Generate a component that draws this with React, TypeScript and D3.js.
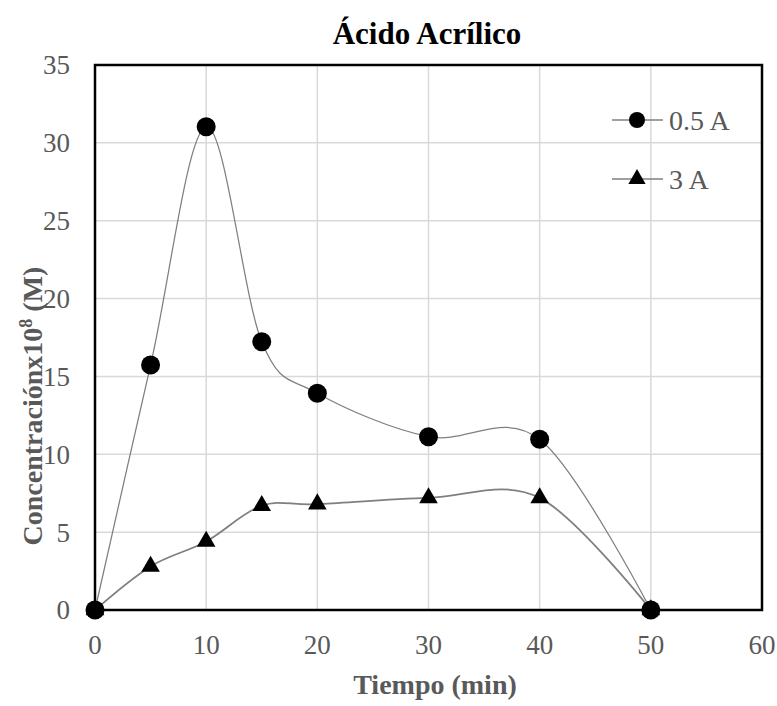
import React from "react";
import * as d3 from "d3";

const times = [0, 5, 10, 15, 20, 30, 40, 50];
const series05A = [0, 15.73, 31.04, 17.23, 13.92, 11.13, 10.96, 0];
const series3A = [0, 2.8, 4.4, 6.7, 6.8, 7.2, 7.2, 0];
const xTicks = [0, 10, 20, 30, 40, 50, 60];
const yTicks = [0, 5, 10, 15, 20, 25, 30, 35];
const seriesNames = ["0.5 A", "3 A"];

const W = 777;
const H = 706;
const M = { left: 95, right: 762, top: 65, bottom: 610 };
const FONT = "'Liberation Serif', 'Times New Roman', serif";

export default function App() {
  const x = d3.scaleLinear().domain([0, 60]).range([M.left, M.right]);
  const y = d3.scaleLinear().domain([0, 35]).range([M.bottom, M.top]);
  const line = d3
    .line<number>()
    .x((_, i) => x(times[i]))
    .y((d) => y(d))
    .curve(d3.curveCardinal.tension(0));

  const tri = d3.symbol().type(d3.symbolTriangle).size(150)();
  const triLegend = d3.symbol().type(d3.symbolTriangle).size(130)();

  return (
    <svg width={W} height={H} style={{ position: "absolute", left: 0, top: 0 }}>
      <rect x={0} y={0} width={W} height={H} fill="white" />
      {/* grid */}
      {xTicks.map((t) => (
        <line key={"gx" + t} x1={x(t)} x2={x(t)} y1={M.top} y2={M.bottom} stroke="#d9d9d9" strokeWidth={1.5} />
      ))}
      {yTicks.map((t) => (
        <line key={"gy" + t} x1={M.left} x2={M.right} y1={y(t)} y2={y(t)} stroke="#d9d9d9" strokeWidth={1.5} />
      ))}
      {/* series lines */}
      <path d={line(series05A) || ""} fill="none" stroke="#7f7f7f" strokeWidth={1.25} />
      <path d={line(series3A) || ""} fill="none" stroke="#7f7f7f" strokeWidth={1.75} />
      {/* markers */}
      {series05A.map((v, i) => (
        <circle key={"c" + i} cx={x(times[i])} cy={y(v)} r={9.5} fill="black" />
      ))}
      {series3A.map((v, i) => (
        <path key={"t" + i} d={tri || ""} transform={`translate(${x(times[i])},${y(v)})`} fill="black" />
      ))}
      {/* plot border */}
      <rect x={M.left} y={M.top} width={M.right - M.left} height={M.bottom - M.top} fill="none" stroke="black" strokeWidth={2.5} />
      {/* tick labels */}
      {yTicks.map((t) => (
        <text key={"yl" + t} x={M.left - 25} y={y(t)} dy="0.35em" textAnchor="end" fontFamily={FONT} fontSize={27} fill="#595959">
          {t}
        </text>
      ))}
      {xTicks.map((t) => (
        <text key={"xl" + t} x={x(t)} y={M.bottom + 44} textAnchor="middle" fontFamily={FONT} fontSize={27} fill="#595959">
          {t}
        </text>
      ))}
      {/* title */}
      <text x={427} y={44} textAnchor="middle" fontFamily={FONT} fontSize={31} fontWeight="bold" fill="black">
        Ácido Acrílico
      </text>
      {/* axis titles */}
      <text x={435} y={694} textAnchor="middle" fontFamily={FONT} fontSize={28} fontWeight="bold" fill="#595959">
        Tiempo (min)
      </text>
      <text transform="translate(42,406) rotate(-90)" textAnchor="middle" fontFamily={FONT} fontSize={28} fontWeight="bold" fill="#595959">
        Concentraciónx10<tspan dy={-10} fontSize={18}>8</tspan><tspan dy={10}> (M)</tspan>
      </text>
      {/* legend */}
      {seriesNames.map((n, i) => {
        const ly = 120 + i * 59;
        return (
          <g key={n}>
            <line x1={612} x2={663} y1={ly} y2={ly} stroke="#7f7f7f" strokeWidth={1.5} />
            {i === 0 ? (
              <circle cx={637} cy={ly} r={8} fill="black" />
            ) : (
              <path d={triLegend || ""} transform={`translate(637,${ly})`} fill="black" />
            )}
            <text x={669} y={ly} dy="0.35em" fontFamily={FONT} fontSize={28} fill="#595959">
              {n}
            </text>
          </g>
        );
      })}
    </svg>
  );
}
